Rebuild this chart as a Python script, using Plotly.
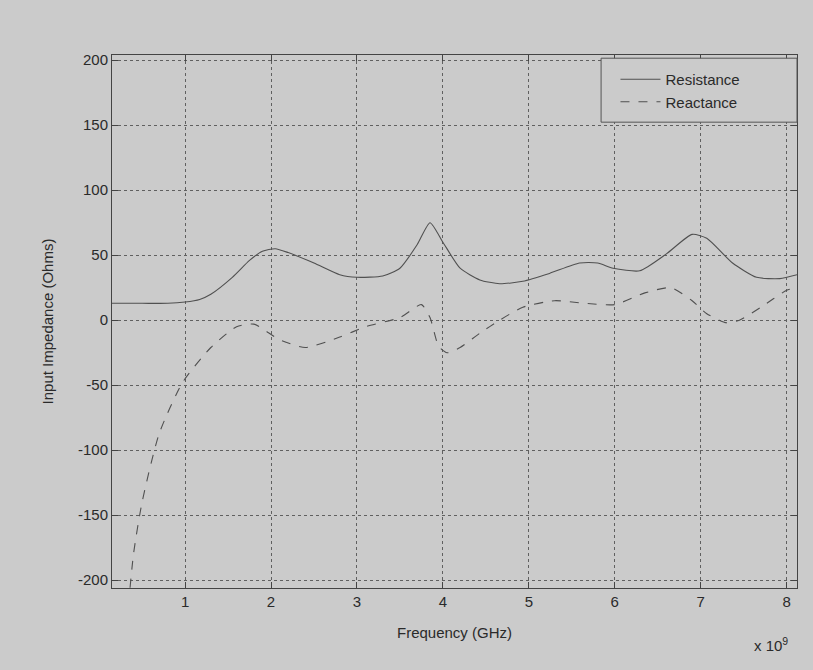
import plotly.graph_objects as go

# Frequency in GHz (axis shows x 10^9 Hz)
res_freq = [0.15, 0.5, 0.8, 1.0, 1.17, 1.3, 1.55, 1.75, 1.9, 2.05, 2.2, 2.5, 2.8, 3.0, 3.3, 3.5, 3.7, 3.85,
            4.0, 4.2, 4.43, 4.66, 4.93, 5.24, 5.59, 5.8, 5.98, 6.29, 6.6, 6.9, 7.07, 7.37, 7.65, 7.92, 8.12]
resistance = [13, 13, 13, 14, 16, 20, 33, 46, 53, 55, 52, 44, 35, 33, 34, 40, 58, 75,
              60, 40, 31, 28, 30, 36, 44, 44, 40, 38, 51, 66, 63, 44, 33, 32, 35]

rea_freq = [0.2, 0.3, 0.4, 0.5, 0.7, 0.97, 1.3, 1.6, 1.8, 2.1, 2.4, 2.8, 3.1, 3.5, 3.75, 3.85, 3.95, 4.05,
            4.2, 4.43, 4.66, 4.93, 5.3, 5.65, 6.0, 6.35, 6.65, 6.9, 7.07, 7.3, 7.45, 7.7, 8.0, 8.12]
reactance = [-330, -250, -180, -140, -87, -48, -21, -5, -3, -15, -21, -13, -5, 2, 12, 2, -20, -25,
             -21, -10, 0, 10, 15, 13, 12, 21, 25, 15, 5, -2, 0, 10, 23, 25]

x_ticks = [1, 2, 3, 4, 5, 6, 7, 8]
y_ticks = [-200, -150, -100, -50, 0, 50, 100, 150, 200]

bg = "#cbcbcb"
line_col = "#505050"
txt = "#2a2a2a"
font = "Liberation Sans, Arial, sans-serif"

fig = go.Figure()
fig.add_trace(go.Scatter(x=res_freq, y=resistance, mode="lines", name="Resistance",
                         line=dict(color=line_col, width=1.1, shape="spline", smoothing=0.6)))
fig.add_trace(go.Scatter(x=rea_freq, y=reactance, mode="lines", name="Reactance",
                         line=dict(color=line_col, width=1.1, dash="dash", shape="spline", smoothing=0.6)))

fig.update_layout(
    width=813, height=670,
    margin=dict(l=112, r=16, t=55, b=82),
    paper_bgcolor=bg, plot_bgcolor=bg,
    font=dict(family=font, size=15, color=txt),
    showlegend=True,
    legend=dict(x=0.735, y=0.985, xanchor="left", yanchor="top", bgcolor="rgba(0,0,0,0)",
                borderwidth=0, font=dict(size=15, color=txt), tracegroupgap=0, itemwidth=40),
    shapes=[dict(type="rect", xref="paper", yref="paper", x0=0.714, x1=1.0, y0=0.874, y1=0.994,
                 line=dict(color="#555555", width=1), fillcolor=bg, layer="above")],
    xaxis=dict(range=[0.15, 8.12], tickvals=x_ticks, ticktext=[str(v) for v in x_ticks],
               showgrid=True, gridcolor="#606060", griddash="dot", gridwidth=1,
               showline=True, linecolor="#444444", mirror="ticks", ticks="inside", ticklen=6,
               tickcolor="#444444", zeroline=False,
               title=dict(text="Frequency (GHz)", standoff=18, font=dict(size=15))),
    yaxis=dict(range=[-206, 204], tickvals=y_ticks, ticktext=[str(v) for v in y_ticks],
               showgrid=True, gridcolor="#606060", griddash="dot", gridwidth=1,
               showline=True, linecolor="#444444", mirror="ticks", ticks="inside", ticklen=6,
               tickcolor="#444444", zeroline=False,
               title=dict(text="Input Impedance (Ohms)", standoff=20, font=dict(size=15))),
    annotations=[dict(text="x 10<sup>9</sup>", xref="paper", yref="paper", x=0.99, y=-0.085,
                      xanchor="right", yanchor="top", showarrow=False, font=dict(size=15, color=txt))],
)

fig.write_html("out.html")
